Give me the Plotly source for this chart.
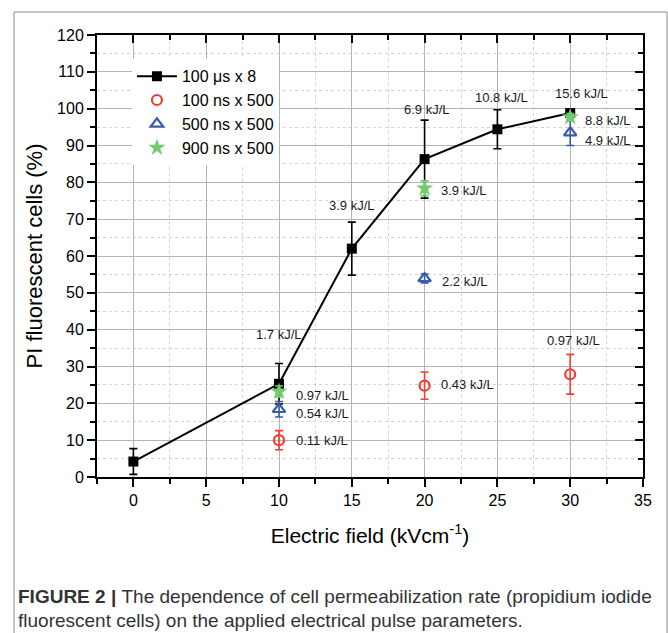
import plotly.graph_objects as go

# ---- data ----
field_us = [0, 10, 15, 20, 25, 30]
pi_us = [4.2, 25.3, 62.0, 86.3, 94.4, 98.8]
err_us = [3.5, 5.5, 7.2, 10.6, 5.3, 1.0]

field_ns = [10, 20, 30]
pi_100ns = [10.0, 24.8, 27.9]
err_100ns = [2.6, 3.7, 5.4]
pi_500ns = [18.4, 53.9, 93.5]
err_500ns = [2.1, 1.2, 3.5]
pi_900ns = [23.2, 78.4, 97.7]
err_900ns = [1.5, 2.0, 1.0]

series_names = ["100 \u03bcs x 8", "100 ns x 500", "500 ns x 500", "900 ns x 500"]

# energy labels: text, x, y (data coords), anchor
energy_text = ["15.6 kJ/L", "10.8 kJ/L", "6.9 kJ/L", "3.9 kJ/L", "1.7 kJ/L",
               "8.8 kJ/L", "4.9 kJ/L", "3.9 kJ/L", "2.2 kJ/L",
               "0.97 kJ/L", "0.54 kJ/L", "0.11 kJ/L", "0.43 kJ/L", "0.97 kJ/L"]
energy_x = [30.75, 25.3, 20.15, 15.0, 9.97,
            30.9, 30.9, 21.0, 21.05,
            11.0, 11.0, 11.0, 21.0, 30.2]
energy_y = [104.2, 103.1, 99.8, 73.7, 38.6,
            96.7, 91.3, 77.9, 53.2,
            22.2, 17.3, 9.9, 25.0, 37.0]
energy_anchor = ["center", "center", "center", "center", "center",
                 "left", "left", "left", "left",
                 "left", "left", "left", "left", "center"]

FONT = "Liberation Sans, Arial, sans-serif"
RED = "#ef3e36"
BLUE = "#3a5ba8"
GREEN = "#72cc6e"

fig = go.Figure()

fig.add_trace(go.Scatter(
    x=field_us, y=pi_us, name=series_names[0], mode="lines+markers",
    line=dict(color="black", width=2),
    marker=dict(symbol="square", size=10, color="black"),
    error_y=dict(type="data", array=err_us, color="black", thickness=1.6, width=4),
))
fig.add_trace(go.Scatter(
    x=field_ns, y=pi_100ns, name=series_names[1], mode="markers",
    marker=dict(symbol="circle-open", size=10, color=RED, line=dict(width=2.2, color=RED)),
    error_y=dict(type="data", array=err_100ns, color=RED, thickness=1.6, width=4),
))
fig.add_trace(go.Scatter(
    x=field_ns, y=pi_500ns, name=series_names[2], mode="markers",
    marker=dict(symbol="triangle-up-open", size=11, color=BLUE, line=dict(width=2.2, color=BLUE)),
    error_y=dict(type="data", array=err_500ns, color=BLUE, thickness=1.6, width=4),
))
fig.add_trace(go.Scatter(
    x=field_ns, y=pi_900ns, name=series_names[3], mode="markers",
    marker=dict(symbol="star", size=13, color=GREEN, line=dict(width=0)),
    error_y=dict(type="data", array=err_900ns, color=GREEN, thickness=1.6, width=4),
))
# helper trace for top/right inward-tick axes
fig.add_trace(go.Scatter(x=[None], y=[None], xaxis="x2", yaxis="y2",
                         showlegend=False, hoverinfo="skip"))

XR = [-2.5, 35]
YR = [0, 120]
common = dict(showline=True, linecolor="black", linewidth=2,
              ticklen=8, tickwidth=2, tickcolor="black", zeroline=False)

fig.update_layout(
    width=668, height=633,
    margin=dict(l=97, r=25, t=35, b=156),
    paper_bgcolor="white", plot_bgcolor="white",
    font=dict(family=FONT, color="black"),
    xaxis=dict(range=XR, tick0=0, dtick=5, ticks="outside",
               showgrid=True, gridcolor="#b4b4b4", gridwidth=1,
               tickfont=dict(size=16),
               minor=dict(dtick=2.5, ticks="outside", ticklen=5, tickwidth=1.5, tickcolor="black",
                          showgrid=True, gridcolor="#d2d2d2", griddash="dot", gridwidth=1),
               title=dict(text="Electric field (kVcm<sup>-1</sup>)", font=dict(size=21), standoff=20),
               **common),
    yaxis=dict(range=YR, tick0=0, dtick=10, ticks="outside",
               showgrid=True, gridcolor="#b4b4b4", gridwidth=1,
               tickfont=dict(size=16),
               minor=dict(dtick=5, ticks="outside", ticklen=5, tickwidth=1.5, tickcolor="black",
                          showgrid=True, gridcolor="#d2d2d2", griddash="dot", gridwidth=1),
               title=dict(text="PI fluorescent cells (%)", font=dict(size=22), standoff=8),
               **common),
    xaxis2=dict(range=XR, overlaying="x", side="top", anchor="y2", tick0=0, dtick=5,
                ticks="inside", showticklabels=False, showgrid=False,
                minor=dict(dtick=2.5, ticks="inside", ticklen=5, tickwidth=1.5, tickcolor="black"),
                **common),
    yaxis2=dict(range=YR, overlaying="y", side="right", anchor="x2", tick0=0, dtick=10,
                ticks="inside", showticklabels=False, showgrid=False,
                minor=dict(dtick=5, ticks="inside", ticklen=5, tickwidth=1.5, tickcolor="black"),
                **common),
    legend=dict(x=0.064, y=0.945, xanchor="left", yanchor="top",
                bgcolor="white", borderwidth=0, font=dict(size=16, color="black"),
                itemwidth=40, tracegroupgap=0),
    showlegend=True,
)

for t, x, y, a in zip(energy_text, energy_x, energy_y, energy_anchor):
    fig.add_annotation(x=x, y=y, text=t, xanchor=a, yanchor="middle", showarrow=False,
                       font=dict(size=13, color="#1a1a1a", family=FONT))

# figure frame
fig.add_shape(type="rect", xref="paper", yref="paper",
              x0=(14 - 97) / 546, x1=(667 - 97) / 546,
              y0=(477 - 660) / 442, y1=(477 - 12) / 442,
              line=dict(color="#8c8c8c", width=1), fillcolor="rgba(0,0,0,0)", layer="below")

# caption
fig.add_annotation(xref="paper", yref="paper", x=(16 - 97) / 546, y=(477 - 596) / 442,
                   xanchor="left", yanchor="middle", showarrow=False, align="left",
                   text="<b>FIGURE 2 | </b>The dependence of cell permeabilization rate (propidium iodide",
                   font=dict(size=19, color="#333333", family=FONT))
fig.add_annotation(xref="paper", yref="paper", x=(16 - 97) / 546, y=(477 - 620) / 442,
                   xanchor="left", yanchor="middle", showarrow=False, align="left",
                   text="fluorescent cells) on the applied electrical pulse parameters.",
                   font=dict(size=19, color="#333333", family=FONT))

fig.write_html("out.html")
